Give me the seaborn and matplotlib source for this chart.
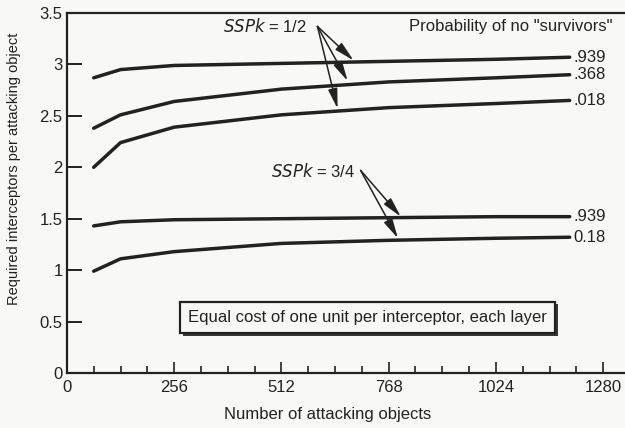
import pandas as pd
import seaborn as sns
import matplotlib.pyplot as plt
import matplotlib.patheffects as pe
import numpy as np
from matplotlib.ticker import MultipleLocator

# data
attackers = [64, 128, 256, 512, 768, 1024, 1200]
half_939 = [2.87, 2.95, 2.99, 3.01, 3.03, 3.05, 3.07]
half_368 = [2.38, 2.51, 2.64, 2.76, 2.83, 2.87, 2.90]
half_018 = [2.00, 2.24, 2.39, 2.51, 2.58, 2.62, 2.65]
three_939 = [1.43, 1.47, 1.49, 1.50, 1.51, 1.52, 1.52]
three_018 = [0.99, 1.11, 1.18, 1.26, 1.29, 1.31, 1.32]
end_labels = ['.939', '.368', '.018', '.939', '0.18']
y_ticks = [0, 0.5, 1, 1.5, 2, 2.5, 3, 3.5]
y_ticklabels = ['0', '0.5', '1', '1.5', '2', '2.5', '3', '3.5']

series = [half_939, half_368, half_018, three_939, three_018]
names = ['half .939', 'half .368', 'half .018', 'three .939', 'three 0.18']

df = pd.concat([pd.DataFrame({'x': attackers, 'y': s, 'curve': n})
                for s, n in zip(series, names)], ignore_index=True)

sns.set_style('ticks')
plt.rcParams['font.family'] = ['Liberation Sans', 'DejaVu Sans']
ink = '#222222'
paper = '#f8f8f6'
fs = 12

fig = plt.figure(figsize=(6.25, 4.28), dpi=100, facecolor=paper)
ax = fig.add_axes([0.107, 0.1285, 0.893, 0.8411])
ax.set_facecolor(paper)

sns.lineplot(data=df, x='x', y='y', units='curve', estimator=None,
             color=ink, linewidth=2.5, ax=ax, legend=False)

ax.set_xlim(0, 1332)
ax.set_ylim(0, 3.5)
ax.set_xticks(np.arange(0, 1281, 256))
ax.xaxis.set_minor_locator(MultipleLocator(64))
ax.set_yticks(y_ticks)
ax.set_yticklabels(y_ticklabels)
ax.tick_params(axis='x', which='major', direction='in', length=8, width=1.2,
               colors=ink, labelsize=fs, pad=5)
ax.tick_params(axis='x', which='minor', direction='in', length=5, width=1.2, colors=ink)
ax.tick_params(axis='y', direction='in', length=11, width=1.4, colors=ink,
               labelsize=fs, pad=3)
for side in ['left', 'bottom', 'top']:
    ax.spines[side].set_linewidth(1.6)
    ax.spines[side].set_color(ink)
ax.spines['right'].set_visible(False)

ax.set_xlabel('Number of attacking objects', fontsize=fs, color=ink, labelpad=8)
ax.xaxis.set_label_coords(0.468, -0.095)
ax.set_ylabel('Required interceptors per attacking object', fontsize=10.5,
              color=ink, labelpad=4)
ax.yaxis.set_label_coords(-0.082, 0.567)

# right hand labels
for s, lab in zip(series, end_labels):
    ax.text(1208, s[-1], lab, fontsize=fs, color=ink, va='center', ha='left')

ax.text(1302, 3.37, 'Probability of no "survivors"', fontsize=fs, color=ink,
        ha='right', va='center')

# SSPk annotations
ax.text(574, 3.37, '$\\it{SSPk}$ = 1/2', fontsize=fs, color=ink, ha='right', va='center')
ax.text(689, 1.96, '$\\it{SSPk}$ = 3/4', fontsize=fs, color=ink, ha='right', va='center')

arrow = dict(arrowstyle='-|>,head_length=1.2,head_width=0.28', color=ink, lw=1.1,
             shrinkA=0, shrinkB=0)
for tx, ty in [(684, 3.04), (670, 2.84), (646, 2.57)]:
    ax.annotate('', xy=(tx, ty), xytext=(598, 3.37), arrowprops=arrow)
for tx, ty in [(797, 1.52), (790, 1.31)]:
    ax.annotate('', xy=(tx, ty), xytext=(701, 1.97), arrowprops=arrow)

note = ax.text(718, 0.54, 'Equal cost of one unit per interceptor, each layer',
               fontsize=fs, color=ink, ha='center', va='center',
               bbox=dict(boxstyle='square,pad=0.5', fc=paper, ec=ink, lw=1.6))
note.get_bbox_patch().set_path_effects(
    [pe.SimplePatchShadow(offset=(2, -2), shadow_rgbFace=ink, alpha=0.9), pe.Normal()])

fig.savefig('out.png', dpi=100, facecolor=paper)
